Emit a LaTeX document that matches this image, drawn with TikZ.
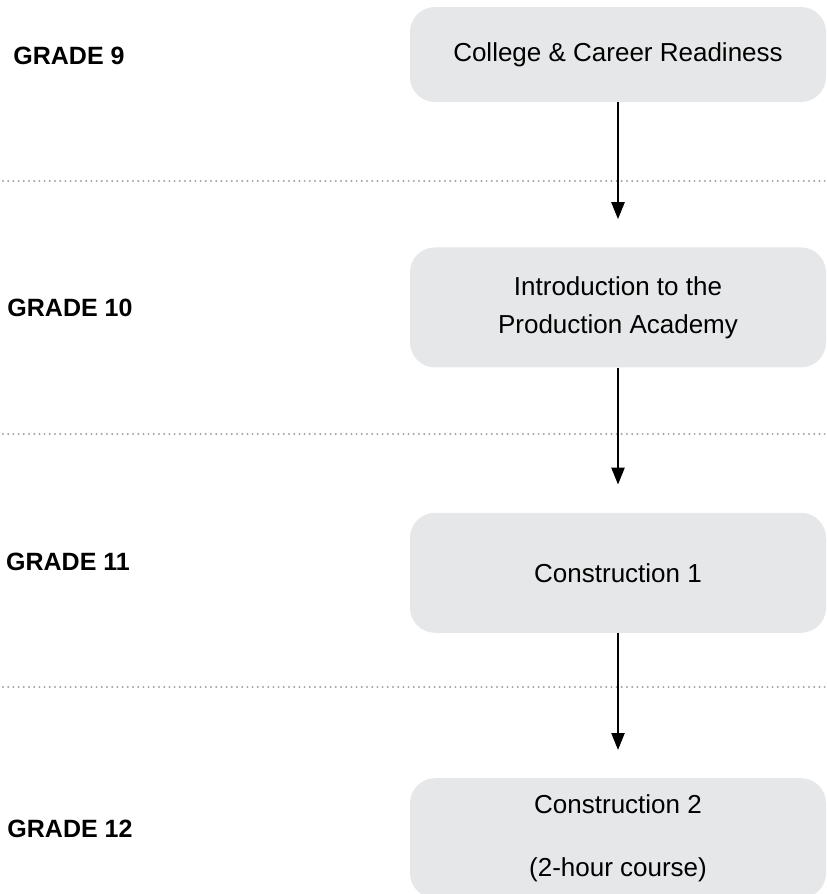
\documentclass[tikz,border=0pt]{standalone}
\usepackage{fontspec}
\setmainfont{Liberation Sans}
\usetikzlibrary{positioning, arrows.meta}
\definecolor{boxgray}{HTML}{E6E7E8}
\definecolor{dotgray}{HTML}{A0A2A5}
\tikzset{
  node distance=145pt,
  course/.style={fill=boxgray, rounded corners=25pt, minimum width=416pt,
    minimum height=120pt, align=center, inner sep=0pt,
    font=\fontsize{26}{38}\selectfont},
  grade/.style={font=\fontsize{25}{30}\selectfont\bfseries},
  flow/.style={-{Triangle[width=13pt,length=17pt]}, line width=2.4pt, shorten >=28pt},
  divider/.style={dotgray, line width=2.2pt, line cap=round, dash pattern=on 0pt off 5.2pt},
}

\begin{document}
\begin{tikzpicture}[x=1pt, y=-1pt]
      \useasboundingbox (0,0) rectangle (827,894);
      \clip (0,0) rectangle (827,894);

      % dotted lines between the grades
      \foreach \y in {181,434,687}
        \draw[divider] (3,\y) -- (827,\y);

      \node[course,minimum height=95pt] (ccr) at (618,54.5) {College \& Career Readiness};
      \node[course,below=of ccr]   (intro) {Introduction to the\\Production Academy};
      \node[course,below=of intro] (con1)  {Construction 1};
      \node[course,below=of con1]  (con2)  {Construction 2\\[25pt](2-hour course)};

      \node[grade] (g9)  at (69,56)  {GRADE 9};
      \node[grade] (g10) at (70,308) {GRADE 10};
      \node[grade] (g11) at (68,562) {GRADE 11};
      \node[grade] (g12) at (70,829) {GRADE 12};

      \draw[flow] (ccr)   -- (intro);
      \draw[flow] (intro) -- (con1);
      \draw[flow] (con1)  -- (con2);
\end{tikzpicture}
\end{document}
